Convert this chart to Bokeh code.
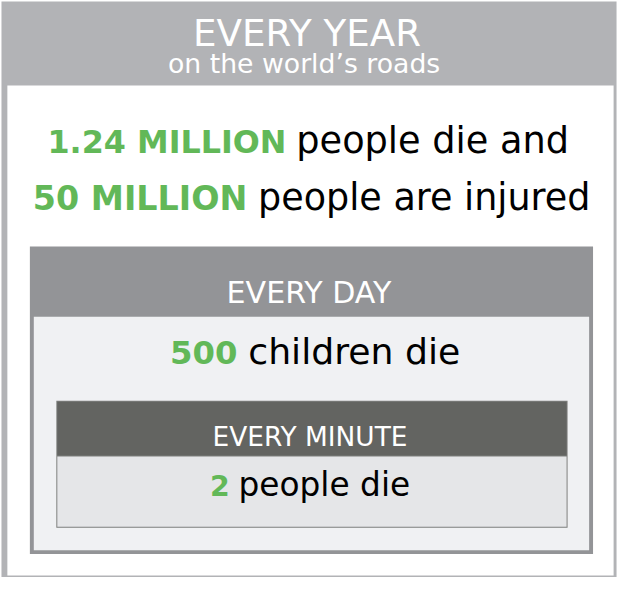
from bokeh.plotting import figure
from bokeh.models import Range1d
from bokeh.core.properties import value
from bokeh.embed import file_html
from bokeh.resources import INLINE

# ---- content (the infographic's numbers and texts) ----
header_title = "EVERY YEAR"
header_sub = "on the world\u2019s roads"
year_numbers = ["1.24 MILLION", "50 MILLION"]
year_texts = ["people die and", "people are injured"]
day_label = "EVERY DAY"
day_number = "500"
day_text = "children die"
minute_label = "EVERY MINUTE"
minute_number = "2"
minute_text = "people die"

GREEN = "#62b858"
FONT = "DejaVu Sans"

W, H = 618, 577
p = figure(width=W, height=H, output_backend="svg", toolbar_location=None,
           x_range=Range1d(3, 634), y_range=Range1d(593, 2),
           min_border=0, outline_line_color=None)
p.axis.visible = False
p.xgrid.visible = False
p.ygrid.visible = False
p.background_fill_color = "white"
p.border_fill_color = "white"

FS = 618 / 631.0  # px scale from design coords


def fs(px):
    return "%.1fpx" % (px * FS)


def box(l, r, t, b, color):
    p.quad(left=[l], right=[r], top=[t], bottom=[b], fill_color=color, line_color=None)


# outer frame
box(4, 632, 3, 593, "#b2b3b6")
box(10, 629, 89, 591, "white")
# every day box
box(33, 608, 254, 569, "#939497")
box(37, 604, 326, 565, "#f0f1f3")
# every minute box
box(60, 582, 412, 542, "#7d7e7c")
box(61, 581, 413, 468, "#636461")
box(61, 581, 469, 541, "#e5e6e8")


def txt(x, y, s, size, color, align="center", bold=False):
    yy = y - 0.235 * size
    p.text(x=[x], y=[yy], text=[s], text_align=align, text_baseline="alphabetic",
           text_font=value(FONT), text_font_size=fs(size),
           text_color=color, text_font_style="bold" if bold else "normal")


txt(316, 44, header_title, 38, "white")
txt(313, 73, header_sub, 27.3, "white")

splits = [(295, 305, 154, 32.5, 37.5), (255, 266, 213, 34, 37.3)]
for (gx, bx, yb, s1, s2), num, t in zip(splits, year_numbers, year_texts):
    txt(gx, yb, num, s1, GREEN, "right", True)
    txt(bx, yb, t, s2, "black", "left")

txt(318, 308, day_label, 30.7, "white")
txt(245, 370, day_number, 33, GREEN, "right", True)
txt(256, 370, day_text, 37, "black", "left")

txt(319, 455, minute_label, 27, "white")
txt(237, 506, minute_number, 29, GREEN, "right", True)
txt(246, 506, minute_text, 33.5, "black", "left")

open("out.html", "w").write(file_html(p, INLINE))
